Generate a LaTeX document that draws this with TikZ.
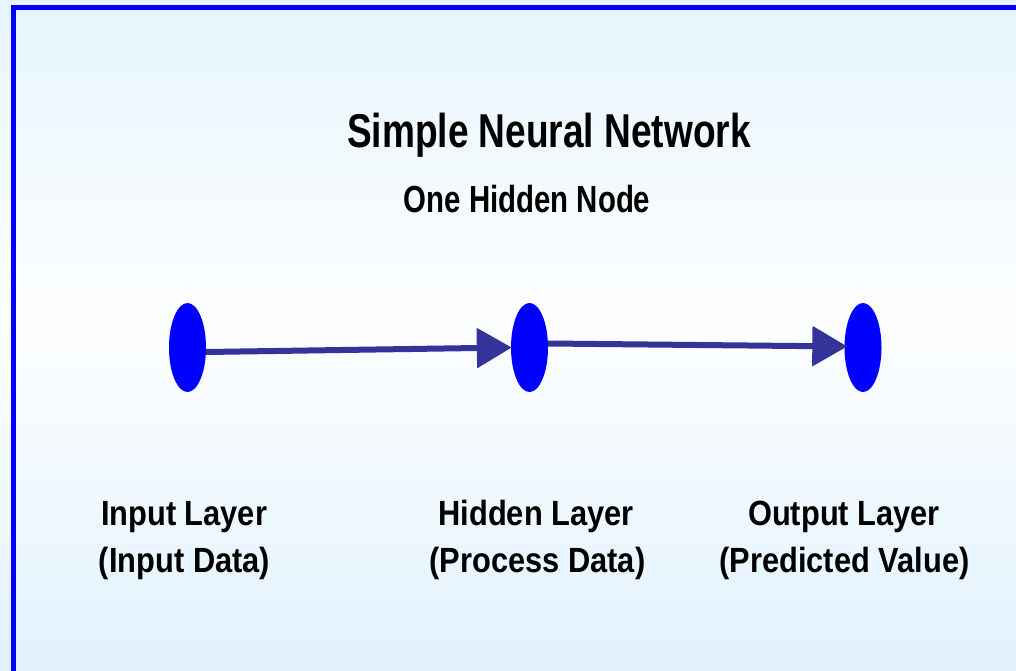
\documentclass[tikz,border=0pt]{standalone}
\usepackage{fontspec}
\setmainfont{Liberation Sans}
\newfontfamily\headfont[FakeStretch=0.78]{Liberation Sans}
\newfontfamily\labfont[FakeStretch=0.88]{Liberation Sans}
\usetikzlibrary{arrows.meta,shapes.geometric}
\definecolor{bgtop}{RGB}{230,245,254}
\definecolor{bgmid}{RGB}{253,254,255}
\definecolor{bgbot}{RGB}{225,242,254}
\definecolor{frameblue}{RGB}{0,0,255}
\definecolor{nodeblue}{RGB}{0,0,255}
\definecolor{arrowblue}{RGB}{51,51,153}
\tikzset{
  neuron/.style={ellipse, fill=nodeblue, draw=none, minimum width=37pt, minimum height=89pt, inner sep=0pt},
  link/.style={draw=arrowblue, line width=6pt, -{Triangle[length=35pt,width=39pt]}},
  titletext/.style={anchor=base, inner sep=0pt, font=\headfont\bfseries\fontsize{47.5}{50}\selectfont},
  subtext/.style={anchor=base, inner sep=0pt, font=\headfont\bfseries\fontsize{37.7}{40}\selectfont},
  labtext/.style={anchor=base, inner sep=0pt, font=\labfont\bfseries\fontsize{35}{40}\selectfont}
}
\begin{document}
\begin{tikzpicture}[x=1pt,y=-1pt]
  \useasboundingbox (0,0) rectangle (1016,671);
  % vertical gradient drawn as thin strips
  \foreach \i in {0,...,79}{
    \pgfmathsetmacro{\p}{100*\i/79}
    \colorlet{stripc}{bgmid!\p!bgtop}
    \fill[stripc] (0,{4*\i}) rectangle (1016,{4*\i+4.6});
  }
  \foreach \i in {0,...,87}{
    \pgfmathsetmacro{\p}{100*\i/87}
    \colorlet{stripc}{bgbot!\p!bgmid}
    \fill[stripc] (0,{320+4*\i}) rectangle (1016,{320+4*\i+4.6});
  }
  \draw[frameblue, line width=4.6pt] (13.3,7.5) rectangle (1040,700);

  \node[titletext] (title) at (549,148) {Simple Neural Network};
  \node[subtext] (sub) at (527,212) {One Hidden Node};

  \node[neuron] (in) at (187.5,347.5) {};
  \node[neuron] (hid) at (529.5,347.5) {};
  \node[neuron] (out) at (863,347.5) {};

  \draw[link] ([yshift=-4.5pt]in.east) -- ([xshift=1pt]hid.west);
  \draw[link] ([yshift=4pt]hid.east) -- ([xshift=3pt,yshift=1pt]out.west);

  \node[labtext] (inA) at (184,525) {Input Layer};
  \node[labtext] (inB) at (184.5,572) {(Input Data)};
  \node[labtext] (hidA) at (536,525) {Hidden Layer};
  \node[labtext] (hidB) at (537.5,572) {(Process Data)};
  \node[labtext] (outA) at (844,525) {Output Layer};
  \node[labtext] (outB) at (844.5,572) {(Predicted Value)};
\end{tikzpicture}
\end{document}
